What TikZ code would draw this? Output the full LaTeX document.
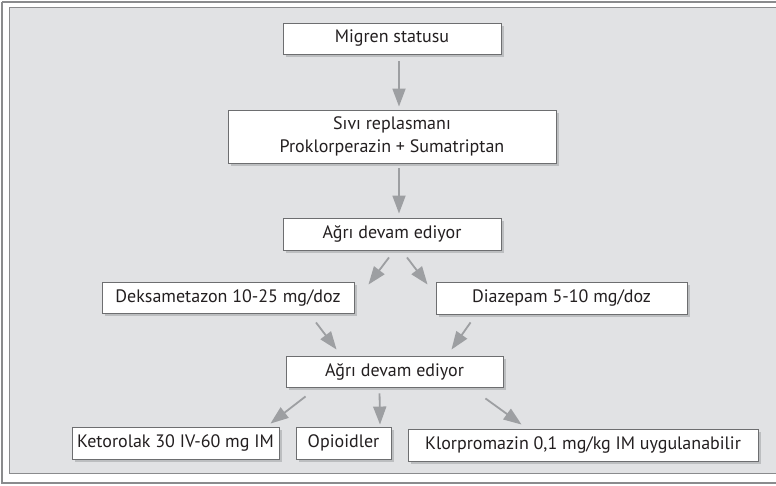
\documentclass[tikz,border=0pt]{standalone}
\usepackage{fontspec}
\setmainfont{PT Sans}
\usetikzlibrary{arrows.meta,calc,shadows}
\definecolor{panel}{HTML}{E1E2E4}
\definecolor{frameline}{HTML}{8A8B8D}
\definecolor{boxline}{HTML}{6D6E70}
\definecolor{shade}{HTML}{BCBEC0}
\definecolor{arrowgray}{HTML}{9D9FA2}
\definecolor{ink}{HTML}{231F20}
\tikzset{
  flowbox/.style={draw=boxline, line width=0.9pt, fill=white, inner sep=0pt,
    text=ink, font=\fontsize{18}{23}\selectfont, align=center,
    drop shadow={shadow xshift=3pt, shadow yshift=-3pt, fill=shade, opacity=1}},
  flowarrow/.style={draw=arrowgray, line width=1.8pt,
    -{Triangle[length=18pt,width=13pt]}}
}
\begin{document}
\begin{tikzpicture}[x=1pt,y=-1pt]
  \useasboundingbox (0,0) rectangle (776,486);
  % outer frame and grey panel (both run past the right edge)
  \fill[white] (0,0) rectangle (776,486);
  \draw[frameline, line width=1.6pt] (2,2) -- (790,2);
  \draw[frameline, line width=1.2pt] (790,483) -- (2,483) -- (2,2);
  \draw[frameline, line width=1pt, fill=panel] (9,8) rectangle (800,473);

  % boxes
  \node[flowbox, minimum width=218pt, minimum height=31pt] (n1) at (392,38.5) {Migren statusu};
  \node[flowbox, minimum width=328pt, minimum height=53pt] (n2) at (392,136.5) {Sıvı replasmanı\\Proklorperazin + Sumatriptan};
  \node[flowbox, minimum width=218pt, minimum height=32pt] (n3) at (392,234) {Ağrı devam ediyor};
  \node[flowbox, minimum width=252pt, minimum height=31pt] (deks) at (228,297.5) {Deksametazon 10-25 mg/doz};
  \node[flowbox, minimum width=251pt, minimum height=32pt] (diaz) at (561.5,298) {Diazepam 5-10 mg/doz};
  \node[flowbox, minimum width=217pt, minimum height=31pt] (n4) at (394.5,371.5) {Ağrı devam ediyor};
  \node[flowbox, minimum width=207pt, minimum height=32pt] (ket) at (175.5,443) {Ketorolak 30 IV-60 mg IM};
  \node[flowbox, minimum width=95pt, minimum height=32pt] (opi) at (343.5,443) {Opioidler};
  \node[flowbox, minimum width=350pt, minimum height=32pt] (klor) at (583,445) {Klorpromazin 0,1 mg/kg IM uygulanabilir};

  % connectors
  \draw[flowarrow] ($(n1.south)+(7,7)$) -- ($(n2.north)+(7,-3)$);
  \draw[flowarrow] ($(n2.south)+(7,5)$) -- ($(n3.north)+(7,-4)$);
  \draw[flowarrow] ($(n3.south)+(-3,7)$) -- ($(deks.north east)+(14,3)$);
  \draw[flowarrow] ($(n3.south)+(15,7)$) -- ($(diaz.north west)+(-8,3)$);
  \draw[flowarrow] ($(deks.south)+(88,9)$) -- ($(n4.north west)+(51,-6)$);
  \draw[flowarrow] ($(diaz.south west)+(35,8)$) -- ($(n4.north east)+(-52,-6)$);
  \draw[flowarrow] ($(n4.south west)+(20,9)$) -- ($(ket.north east)+(-9,-3)$);
  \draw[flowarrow] ($(n4.south west)+(94,6)$) -- ($(opi.north)+(36.5,-2)$);
  \draw[flowarrow] ($(n4.south east)+(-18,11)$) -- ($(klor.north west)+(114,-4)$);
\end{tikzpicture}
\end{document}
